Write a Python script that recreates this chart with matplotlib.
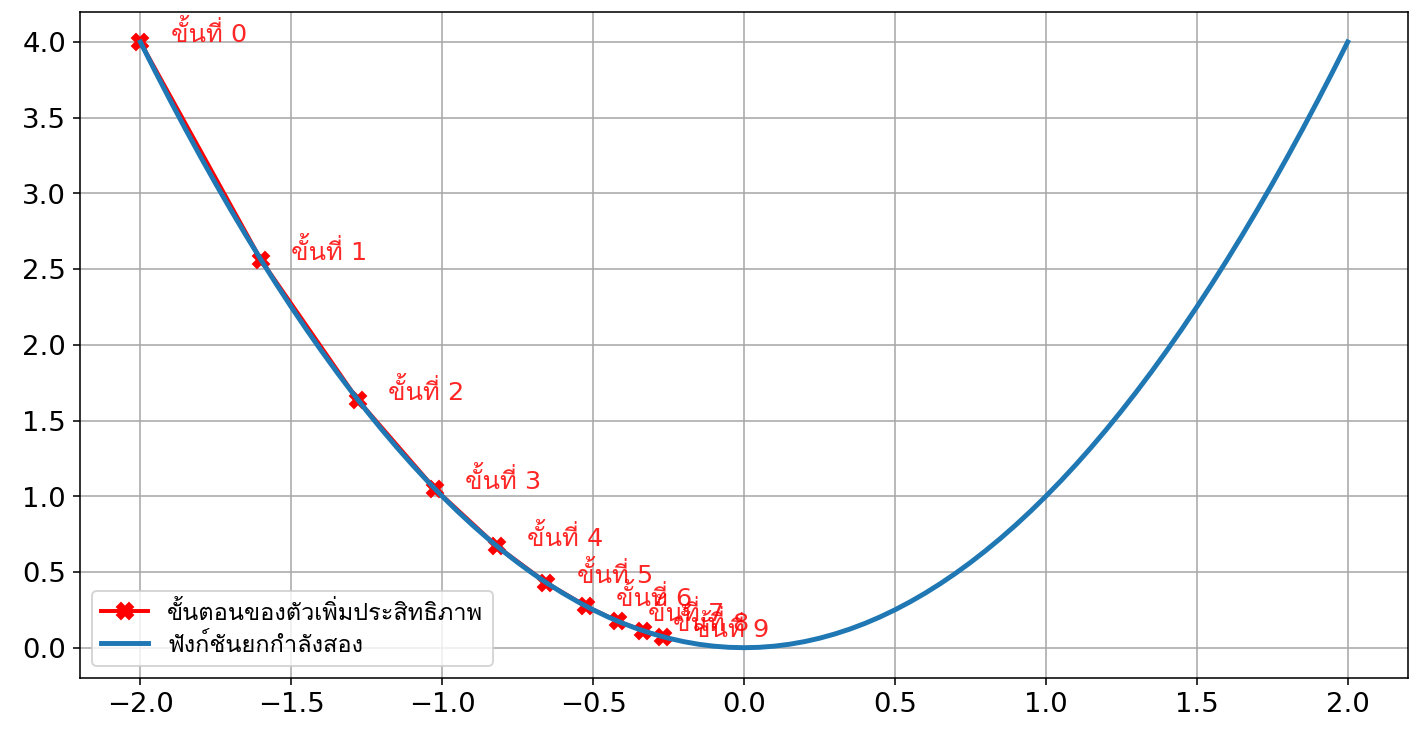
import matplotlib
matplotlib.use("Agg")
import matplotlib.pyplot as plt

plt.rcParams['font.family'] = ['DejaVu Sans', 'Loma']

# optimizer steps (x, f(x))
step_x = [-2.0, -1.6, -1.28, -1.024, -0.819, -0.655, -0.524, -0.419, -0.336, -0.268]
step_y = [4.0, 2.56, 1.638, 1.049, 0.671, 0.429, 0.275, 0.176, 0.113, 0.072]
step_labels = ["ขั้นที่ %d" % i for i in range(len(step_x))]

# quadratic curve samples, every 0.05
curve_x = [-2.0, -1.95, -1.9, -1.85, -1.8, -1.75, -1.7, -1.65, -1.6, -1.55,
           -1.5, -1.45, -1.4, -1.35, -1.3, -1.25, -1.2, -1.15, -1.1, -1.05,
           -1.0, -0.95, -0.9, -0.85, -0.8, -0.75, -0.7, -0.65, -0.6, -0.55,
           -0.5, -0.45, -0.4, -0.35, -0.3, -0.25, -0.2, -0.15, -0.1, -0.05,
           0.0, 0.05, 0.1, 0.15, 0.2, 0.25, 0.3, 0.35, 0.4, 0.45,
           0.5, 0.55, 0.6, 0.65, 0.7, 0.75, 0.8, 0.85, 0.9, 0.95,
           1.0, 1.05, 1.1, 1.15, 1.2, 1.25, 1.3, 1.35, 1.4, 1.45,
           1.5, 1.55, 1.6, 1.65, 1.7, 1.75, 1.8, 1.85, 1.9, 1.95, 2.0]
curve_y = [4.0, 3.8025, 3.61, 3.4225, 3.24, 3.0625, 2.89, 2.7225, 2.56, 2.4025,
           2.25, 2.1025, 1.96, 1.8225, 1.69, 1.5625, 1.44, 1.3225, 1.21, 1.1025,
           1.0, 0.9025, 0.81, 0.7225, 0.64, 0.5625, 0.49, 0.4225, 0.36, 0.3025,
           0.25, 0.2025, 0.16, 0.1225, 0.09, 0.0625, 0.04, 0.0225, 0.01, 0.0025,
           0.0, 0.0025, 0.01, 0.0225, 0.04, 0.0625, 0.09, 0.1225, 0.16, 0.2025,
           0.25, 0.3025, 0.36, 0.4225, 0.49, 0.5625, 0.64, 0.7225, 0.81, 0.9025,
           1.0, 1.1025, 1.21, 1.3225, 1.44, 1.5625, 1.69, 1.8225, 1.96, 2.1025,
           2.25, 2.4025, 2.56, 2.7225, 2.89, 3.0625, 3.24, 3.4225, 3.61, 3.8025, 4.0]

fig, ax = plt.subplots(figsize=(10, 5.2), dpi=141.6)
ax.plot(step_x, step_y, color='red', marker='X', markersize=8, linewidth=2,
        label='ขั้นตอนของตัวเพิ่มประสิทธิภาพ')
ax.plot(curve_x, curve_y, color='#1f77b4', linewidth=2.5,
        label='ฟังก์ชันยกกำลังสอง')

for x, y, txt in zip(step_x, step_y, step_labels):
    ax.text(x + 0.1, y, txt, color='red', alpha=0.85, fontsize=13)

ax.tick_params(labelsize=14)
ax.grid(True, color='#a8a8a8')
ax.legend(loc='lower left', fontsize=12, labelspacing=0.35)

fig.subplots_adjust(left=0.0565, right=0.9944, top=0.9837, bottom=0.0788)
fig.savefig("out.png")
